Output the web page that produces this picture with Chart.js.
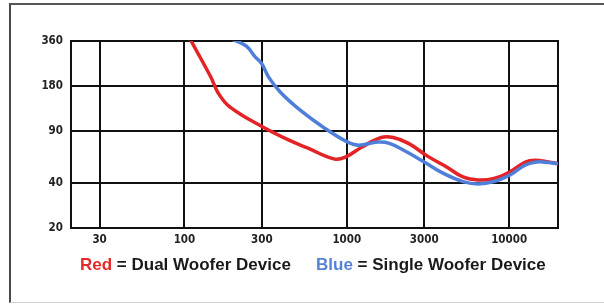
<!DOCTYPE html>
<html>
<head>
<meta charset="utf-8">
<script src="https://cdn.jsdelivr.net/npm/chart.js@4/dist/chart.umd.min.js"></script>
<style>
  html, body { margin: 0; padding: 0; background: #fff; }
  #wrap { position: relative; width: 604px; height: 306px; overflow: hidden; }
  #frame {
    position: absolute; left: 9px; top: 3px; width: 600px; height: 300px;
    border-left: 2px solid #4a4a4a; border-top: 2px solid #555;
    border-bottom: 1px solid #cfcfcf; box-sizing: border-box;
  }
  #chart { position: absolute; left: 0; top: 0; }
  .key {
    position: absolute; top: 256px; font: bold 17px "Liberation Sans", Arial, sans-serif;
    line-height: 17px; color: #1a1a1a; white-space: nowrap;
  }
</style>
</head>
<body>
<div id="wrap">
  <div id="frame"></div>
  <canvas id="chart" width="604" height="306"></canvas>
  <div class="key" style="left:80px"><span style="color:#e62a2a">Red</span> = Dual Woofer Device</div>
  <div class="key" style="left:316px"><span style="color:#5683d8">Blue</span> = Single Woofer Device</div>
</div>
<script>
const ctx = document.getElementById("chart");

// frequency (Hz) and level
const redFreq = [100, 110, 145, 162, 190, 300, 437, 572, 844, 1000, 1240, 1630, 1930, 2400, 3160, 4170, 5190, 6460, 8070, 10070, 12600, 14400, 17500, 20000];
const redLevel = [440, 360, 207, 160, 130, 96, 78, 69, 58, 60.5, 70, 81, 81, 74, 60.5, 51, 44, 42, 43, 47.5, 55.5, 57, 55.5, 54];
const blueFreq = [190, 240, 270, 300, 330, 390, 514, 716, 1000, 1180, 1550, 1830, 2270, 3000, 3940, 5190, 6460, 8070, 10000, 12600, 14800, 17500, 20000];
const blueLevel = [375, 333, 285, 252, 206, 163, 124, 95, 76, 72, 75.5, 74, 66, 55.5, 46.5, 41, 39.5, 41, 45, 53, 55.5, 55, 54];

const xTicks = [30, 100, 300, 1000, 3000, 10000];
const yTicks = [20, 40, 90, 180, 360];

const toPoints = (xs, ys) => xs.map((x, i) => ({ x: x, y: ys[i] }));

const tickFont = { family: "'Liberation Sans Narrow', 'DejaVu Sans Condensed', sans-serif", size: 11.5, weight: "bold" };

// box round the plot area
const plotBox = {
  id: "plotBox",
  beforeDatasetsDraw(chart) {
    const a = chart.chartArea;
    const c = chart.ctx;
    c.save();
    c.strokeStyle = "#111";
    c.lineWidth = 2;
    c.strokeRect(a.left, a.top, a.right - a.left, a.bottom - a.top);
    c.restore();
  },
};

const myChart = new Chart(ctx, {
  type: "line",
  data: {
    datasets: [
      {
        data: toPoints(blueFreq, blueLevel),
        borderColor: "#4f7fd8",
        borderWidth: 3.5,
        pointRadius: 0,
        tension: 0.4,
      },
      {
        data: toPoints(redFreq, redLevel),
        borderColor: "#e42326",
        borderWidth: 3.5,
        pointRadius: 0,
        tension: 0.4,
      },
    ],
  },
  plugins: [plotBox],
  options: {
    responsive: false,
    animation: false,
    layout: { padding: { left: 0, top: 41, right: 46, bottom: 58 } },
    plugins: {
      legend: { display: false },
      tooltip: { enabled: false },
    },
    scales: {
      x: {
        type: "logarithmic",
        min: 20,
        max: 20000,
        afterBuildTicks: (scale) => { scale.ticks = xTicks.map((v) => ({ value: v })); },
        afterFit: (scale) => { scale.height = 20; },
        grid: { color: "#111", lineWidth: 2, drawTicks: false },
        border: { display: false },
        ticks: { font: tickFont, color: "#222", padding: 5, maxRotation: 0, autoSkip: false, callback: (v) => String(v) },
      },
      y: {
        type: "logarithmic",
        min: 20,
        max: 360,
        afterBuildTicks: (scale) => { scale.ticks = yTicks.map((v) => ({ value: v })); },
        afterFit: (scale) => { scale.width = 71; },
        grid: { color: "#111", lineWidth: 2, drawTicks: false },
        border: { display: false },
        ticks: { font: tickFont, color: "#222", padding: 8, autoSkip: false, callback: (v) => String(v) },
      },
    },
  },
});
</script>
</body>
</html>
